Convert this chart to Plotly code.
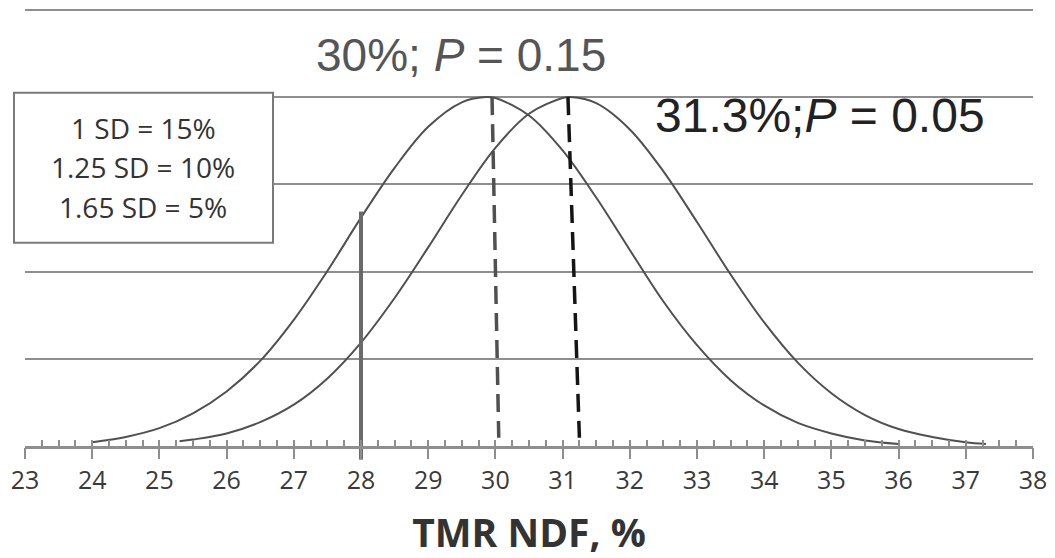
import plotly.graph_objects as go

# ---- data ----
ndf_a = [24.0, 24.5, 25.0, 25.5, 26.0, 26.5, 27.0, 27.5, 28.0, 28.5, 29.0, 29.5, 29.85,
         30.0, 30.5, 31.0, 31.5, 32.0, 32.5, 33.0, 33.5, 34.0, 34.5, 35.0, 35.5, 36.0]
dens_a = [0.05, 0.11, 0.21, 0.38, 0.63, 0.98, 1.45, 2.01, 2.62, 3.19, 3.66, 3.94, 4.00,
          3.99, 3.79, 3.39, 2.85, 2.25, 1.66, 1.16, 0.76, 0.47, 0.27, 0.15, 0.07, 0.03]

ndf_b = [25.3, 25.5, 26.0, 26.5, 27.0, 27.5, 28.0, 28.5, 29.0, 29.5, 30.0, 30.5, 31.0, 31.12,
         31.5, 32.0, 32.5, 33.0, 33.5, 34.0, 34.5, 35.0, 35.5, 36.0, 36.5, 37.0, 37.3]
dens_b = [0.06, 0.08, 0.15, 0.28, 0.48, 0.78, 1.19, 1.70, 2.28, 2.88, 3.42, 3.81, 3.99, 4.00,
          3.93, 3.63, 3.15, 2.57, 1.97, 1.42, 0.96, 0.61, 0.36, 0.20, 0.11, 0.05, 0.03]

mean_a_x = [29.95, 30.05]
mean_a_y = [4.0, 0.1]
mean_b_x = [31.08, 31.25]
mean_b_y = [4.0, 0.1]
cut_x = [28.0, 28.0]
cut_y = [2.69, -0.15]

x_ticks = list(range(23, 39))
label_a = "30%; <i>P</i> = 0.15"
label_b = "31.3%;<i>P</i> = 0.05"
box_lines = ["1 SD = 15%", "1.25 SD = 10%", "1.65 SD = 5%"]
x_title = "<b>TMR NDF, %</b>"

# ---- figure (page has an 8px body margin; compensate) ----
OFF = 8
W, H = 1055 - OFF, 558 - OFF
L, R = 25 - OFF, 22
YMIN, YMAX = -0.2, 5.02
unit = 87.4
T = max((10 - OFF) - (YMAX - 5) * unit, 0)
B = H - ((447 - OFF) - YMIN * unit)
pw, ph = W - L - R, H - T - B
axis_pos = (0 - YMIN) / (YMAX - YMIN)

def px(xp):
    return (xp - OFF - L) / pw

def py(yp):
    return (H - B - (yp - OFF)) / ph

fig = go.Figure()
curve_col = "#505050"
fig.add_trace(go.Scatter(x=ndf_a, y=dens_a, mode="lines", line=dict(color=curve_col, width=2, shape="spline"),
                         hoverinfo="skip", showlegend=False))
fig.add_trace(go.Scatter(x=ndf_b, y=dens_b, mode="lines", line=dict(color=curve_col, width=2, shape="spline"),
                         hoverinfo="skip", showlegend=False))
fig.add_trace(go.Scatter(x=mean_a_x, y=mean_a_y, mode="lines", line=dict(color="#505050", width=3.5, dash="18px,9px"),
                         hoverinfo="skip", showlegend=False))
fig.add_trace(go.Scatter(x=mean_b_x, y=mean_b_y, mode="lines", line=dict(color="#151515", width=3.5, dash="18px,9px"),
                         hoverinfo="skip", showlegend=False))
fig.add_trace(go.Scatter(x=cut_x, y=cut_y, mode="lines", line=dict(color="#6a6a6a", width=4),
                         hoverinfo="skip", showlegend=False))
# invisible trace to carry the minor-tick axis
fig.add_trace(go.Scatter(x=ndf_a, y=dens_a, xaxis="x2", mode="lines", opacity=0,
                         hoverinfo="skip", showlegend=False))

grid_col = "#8e8e8e"
fig.update_layout(
    width=W, height=H,
    margin=dict(l=L, r=R, t=T, b=B, autoexpand=False),
    paper_bgcolor="white", plot_bgcolor="white",
    xaxis=dict(range=[23, 38], tickvals=x_ticks, ticks="outside", ticklen=11, tickwidth=2,
               tickcolor=grid_col, showline=True, linecolor=grid_col, linewidth=2.5,
               showgrid=False, zeroline=False, anchor="free", position=axis_pos, automargin=False,
               tickfont=dict(family="Open Sans", size=25, color="#3a3a3a"),
               title=dict(text=x_title, font=dict(family="Open Sans", size=39, color="#333333"), standoff=29)),
    xaxis2=dict(range=[23, 38], overlaying="x", anchor="free", position=axis_pos, dtick=0.25, tick0=23,
                ticks="inside", ticklen=7, tickwidth=1.5, tickcolor=grid_col, automargin=False,
                showticklabels=False, showgrid=False, zeroline=False, showline=False),
    yaxis=dict(range=[YMIN, YMAX], tickvals=[1, 2, 3, 4, 5], showticklabels=False, ticks="",
               showgrid=True, gridcolor=grid_col, gridwidth=2, zeroline=False, showline=False,
               automargin=False),
    font=dict(family="Liberation Sans"),
)

fig.add_annotation(x=29.49, y=4.48, text=label_a, showarrow=False, xanchor="center", yanchor="middle",
                   font=dict(family="Liberation Sans", size=46, color="#555555"))
fig.add_annotation(x=34.83, y=3.79, text=label_b, showarrow=False, xanchor="center", yanchor="middle",
                   font=dict(family="Liberation Sans", size=48, color="#222222"))

fig.add_shape(type="rect", xref="paper", yref="paper", x0=px(14), x1=px(273), y0=py(243), y1=py(93),
              line=dict(color="#7a7a7a", width=2), fillcolor="white", layer="above")
for line_txt, yp in zip(box_lines, [128, 167, 207]):
    fig.add_annotation(xref="paper", yref="paper", x=px(143), y=py(yp), text=line_txt, showarrow=False,
                       xanchor="center", yanchor="middle",
                       font=dict(family="Open Sans", size=28, color="#333333"))

fig.write_html("out.html")
